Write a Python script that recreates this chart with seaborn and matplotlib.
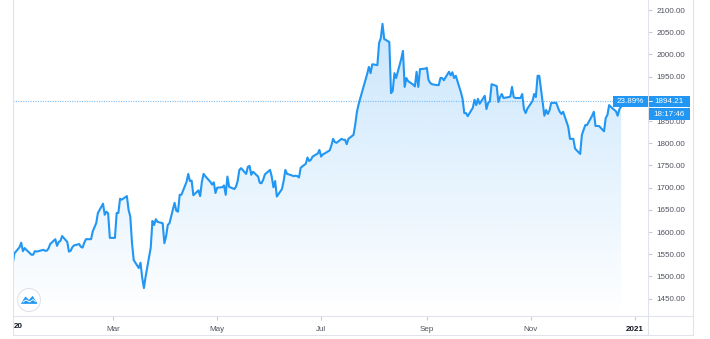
import numpy as np
import pandas as pd
import matplotlib
matplotlib.use("Agg")
import matplotlib.pyplot as plt
import matplotlib.dates as mdates
from matplotlib.patches import Rectangle, Circle, Polygon
import seaborn as sns

# ---- data: daily closes (business days) ----
jan = [1529, 1552, 1566, 1576, 1557, 1564, 1560, 1549, 1549, 1557, 1556, 1557, 1560, 1558, 1558, 1563, 1573, 1584, 1569, 1578, 1580, 1591]
feb = [1578, 1556, 1558, 1566, 1570, 1573, 1567, 1565, 1576, 1584, 1584, 1602, 1611, 1620, 1643, 1664, 1639, 1646, 1642, 1587]
mar = [1587, 1643, 1643, 1675, 1673, 1681, 1650, 1635, 1576, 1537, 1519, 1531, 1497, 1474, 1500, 1565, 1625, 1616, 1629, 1623, 1620, 1575]
apr = [1590, 1616, 1620, 1666, 1648, 1646, 1684, 1684, 1713, 1731, 1715, 1716, 1683, 1694, 1681, 1713, 1731, 1726, 1713, 1707, 1712, 1688]
may = [1700, 1701, 1705, 1684, 1725, 1702, 1697, 1702, 1715, 1740, 1744, 1731, 1747, 1749, 1729, 1736, 1725, 1711, 1710, 1718, 1730]
jun = [1740, 1725, 1701, 1715, 1680, 1697, 1715, 1740, 1731, 1730, 1726, 1727, 1726, 1723, 1745, 1754, 1768, 1760, 1763, 1770, 1777, 1785]
jul = [1770, 1775, 1777, 1784, 1795, 1810, 1803, 1801, 1810, 1808, 1808, 1798, 1810, 1819, 1842, 1871, 1888, 1902, 1943, 1956, 1972, 1958, 1978]
aug = [1976, 2026, 2037, 2069, 2035, 2028, 1913, 1918, 1958, 1947, 1990, 2008, 1927, 1947, 1940, 1932, 1928, 1961, 1927, 1967, 1968]
sep = [1970, 1943, 1936, 1933, 1931, 1931, 1947, 1947, 1942, 1961, 1953, 1960, 1947, 1952, 1915, 1900, 1868, 1868, 1861, 1880, 1898, 1886]
oct_ = [1900, 1889, 1907, 1877, 1891, 1894, 1933, 1929, 1893, 1904, 1911, 1902, 1904, 1905, 1927, 1904, 1902, 1902, 1911, 1877, 1868, 1878]
nov = [1895, 1911, 1904, 1952, 1952, 1862, 1875, 1866, 1874, 1891, 1891, 1880, 1871, 1866, 1871, 1837, 1810, 1810, 1810, 1788, 1776]
dec = [1819, 1830, 1841, 1841, 1862, 1871, 1839, 1839, 1839, 1827, 1857, 1864, 1886, 1882, 1872, 1862, 1877, 1882]
months = [jan, feb, mar, apr, may, jun, jul, aug, sep, oct_, nov, dec]

last_price = 1894.21
change_label = "23.89%"
countdown_label = "18:17:46"

y_ticks = [1450, 1500, 1550, 1600, 1650, 1700, 1750, 1800, 1850, 1900, 1950, 2000, 2050, 2100]
hidden_y_tick = 1900  # covered by the last-price label in the reference
x_tick_dates = ["2020-03-01", "2020-05-01", "2020-07-01", "2020-09-01", "2020-11-01", "2021-01-01"]
x_tick_labels = ["Mar", "May", "Jul", "Sep", "Nov", "2021"]
first_year_label = "20"

# ---- build table ----
dates = []
prices = []
for m, vals in enumerate(months, start=1):
    start = pd.Timestamp(2020, m, 2 if m == 1 else 1)
    dates.extend(pd.bdate_range(start, periods=len(vals)))
    prices.extend(vals)
df = pd.DataFrame({"date": pd.to_datetime(dates), "price": prices})

# ---- style ----
sns.set_theme(style="white")
plt.rcParams["font.family"] = ["Liberation Sans", "DejaVu Sans"]

BLUE = "#2196f3"
GRID = "#e0e3eb"
TXT = "#50535e"
W, H = 710, 339

fig = plt.figure(figsize=(W / 100, H / 100), dpi=100)
fig.patch.set_facecolor("white")
ax_left, ax_right, ax_top, ax_bot = 12.7, 648, 0, 316
ax = fig.add_axes([ax_left / W, (H - ax_bot) / H, (ax_right - ax_left) / W, (ax_bot - ax_top) / H])
ax.set_facecolor("white")

ymin, ymax = 1411, 2122.7
x0 = mdates.date2num(pd.Timestamp("2020-01-02"))
x1 = mdates.date2num(pd.Timestamp("2020-01-01")) + 373.8

xnum = mdates.date2num(df["date"])

# gradient area
poly = ax.fill_between(xnum, df["price"], ymin, color="none", lw=0)
n = 256
rgba = np.zeros((n, 1, 4))
rgba[..., 0] = 33 / 255
rgba[..., 1] = 150 / 255
rgba[..., 2] = 243 / 255
rgba[..., 3] = np.linspace(0.24, 0.0, n).reshape(-1, 1)
top_val = max(prices)
im = ax.imshow(rgba, extent=[xnum[0], xnum[-1], ymin, top_val], aspect="auto",
               origin="upper", zorder=1, interpolation="bilinear")
im.set_clip_path(poly.get_paths()[0], transform=ax.transData)

sns.lineplot(data=df, x="date", y="price", ax=ax, color=BLUE, linewidth=1.5, zorder=3)

ax.axhline(last_price, color="#7dbdf6", ls=(0, (1, 1.2)), lw=0.8, zorder=2)

ax.set_xlim(x0, x1)
ax.set_ylim(ymin, ymax)
ax.set_xlabel("")
ax.set_ylabel("")
for s in ax.spines.values():
    s.set_visible(False)

ax.yaxis.tick_right()
ax.set_yticks(y_ticks)
ax.set_yticklabels(["" if v == hidden_y_tick else f"{v:.2f}" for v in y_ticks])
ax.tick_params(axis="y", right=True, left=False, length=3, width=0.8, color="#c8cbd2",
               pad=3, labelsize=5.8, labelcolor=TXT)

ax.set_xticks(mdates.date2num(pd.to_datetime(x_tick_dates)))
ax.set_xticklabels(x_tick_labels)
ax.tick_params(axis="x", bottom=True, length=3, width=0.8, color="#c8cbd2",
               pad=4, labelsize=5.8, labelcolor=TXT)
for lbl in ax.get_xticklabels():
    if lbl.get_text() == "2021":
        lbl.set_fontweight("bold")
        lbl.set_color("#131722")
ax.grid(False)

# ---- overlay in pixel coordinates for frame, price labels, logo ----
ov = fig.add_axes([0, 0, 1, 1], zorder=5)
ov.set_xlim(0, W)
ov.set_ylim(H, 0)
ov.axis("off")
ov.patch.set_alpha(0)

lw = 0.75
ov.plot([ax_left, ax_left], [0, 335], color=GRID, lw=lw)
ov.plot([ax_left, 693], [ax_bot, ax_bot], color=GRID, lw=lw)
ov.plot([ax_right, ax_right], [0, 335], color=GRID, lw=lw)
ov.plot([693, 693], [0, 335], color=GRID, lw=lw)
ov.plot([ax_left, 693], [335, 335], color=GRID, lw=lw)

ov.text(14, 327, first_year_label, fontsize=5.8, fontweight="bold", color="#131722",
        ha="left", va="center")

# price label position from data scale
disp = ax.transData.transform((x0, last_price))
py = H - disp[1]

ov.add_patch(Rectangle((613, py - 5.8), 34.5, 11.6, color=BLUE, lw=0))
ov.text(630.2, py, change_label, fontsize=5.8, color="white", ha="center", va="center")
ov.add_patch(Rectangle((648.5, py - 5.8), 41, 11.6, color=BLUE, lw=0))
ov.text(669, py, f"{last_price:.2f}", fontsize=5.8, color="white", ha="center", va="center")
ov.plot([648.5, 651.5], [py, py], color="white", lw=0.7)
ov.add_patch(Rectangle((648.5, py + 6.8), 41, 12, color=BLUE, lw=0))
ov.text(669, py + 12.8, countdown_label, fontsize=5.8, color="white", ha="center", va="center")

# logo
ov.add_patch(Circle((29, 300), 11.5, facecolor="white", edgecolor=GRID, lw=0.8))
ov.add_patch(Polygon([(21.5, 303.5), (25.5, 297), (29, 300.5), (32.5, 296.5), (37, 303.5)],
                     closed=True, facecolor=BLUE, edgecolor=BLUE, lw=0.5))
ov.plot([23, 26, 29.5, 33, 35.5], [302, 300, 302, 299.5, 301.5], color="white", lw=0.7)

fig.savefig("out.png", dpi=100)
